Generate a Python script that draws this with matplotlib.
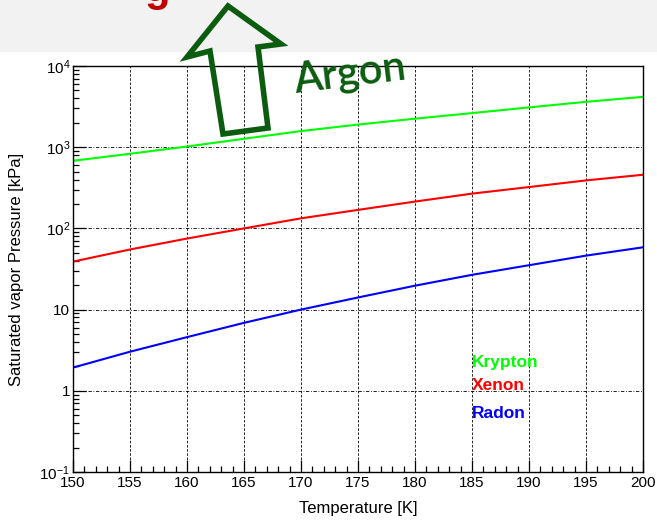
import math
import matplotlib
matplotlib.use('Agg')
import matplotlib.pyplot as plt
from matplotlib.ticker import FixedLocator, FuncFormatter, LogLocator, NullFormatter
from matplotlib.patches import Polygon, Rectangle

plt.rcParams['font.family'] = ['Liberation Sans', 'DejaVu Sans']
plt.rcParams['mathtext.fontset'] = 'custom'
plt.rcParams['mathtext.rm'] = 'Liberation Sans'
plt.rcParams['mathtext.it'] = 'Liberation Sans:italic'

# data
temps = [150, 155, 160, 165, 170, 175, 180, 185, 190, 195, 200]
krypton = [680, 830, 1020, 1270, 1580, 1900, 2245, 2630, 3090, 3620, 4170]
xenon = [39, 55, 75, 100, 133, 169, 214, 268, 323, 390, 458]
radon = [1.93, 3.03, 4.58, 6.87, 10.0, 14.1, 19.7, 26.8, 35.2, 46.2, 58.5]
labels = ['Krypton', 'Xenon', 'Radon']
colors = ['#00ff00', '#ff0000', '#0000ff']
label_y = [2.2, 1.17, 0.53]

fig = plt.figure(figsize=(6.57, 5.21), dpi=100)
ax = fig.add_axes([73/657, 1-472/521, 570/657, 406/521])

for vals, c in zip([krypton, xenon, radon], colors):
    ax.plot(temps, vals, color=c, lw=1.5)

ax.set_yscale('log')
ax.set_xlim(150, 200)
ax.set_ylim(0.1, 1e4)

ax.xaxis.set_major_locator(FixedLocator(range(150, 201, 5)))
ax.xaxis.set_minor_locator(FixedLocator(range(150, 201, 1)))
ax.yaxis.set_major_locator(LogLocator(base=10, numticks=10))
ax.yaxis.set_minor_locator(LogLocator(base=10, subs=range(2, 10), numticks=10))
ax.yaxis.set_minor_formatter(NullFormatter())

def ylab(v, pos):
    if abs(v - 1) < 1e-9:
        return '1'
    if abs(v - 10) < 1e-9:
        return '10'
    return '$10^{%d}$' % int(round(math.log10(v)))
ax.yaxis.set_major_formatter(FuncFormatter(ylab))

ax.tick_params(which='both', direction='in', top=False, right=False, labelsize=11)
ax.tick_params(which='major', length=9, width=0.9)
ax.tick_params(which='minor', length=4.5, width=0.9)
ax.tick_params(axis='x', pad=3)
ax.tick_params(axis='y', pad=2)

ax.xaxis.grid(True, which='major', color='black', lw=0.6, linestyle=(0, (3, 2)))
ax.yaxis.grid(True, which='major', color='black', lw=0.6, linestyle=(0, (4, 2, 1, 2)))
for s in ax.spines.values():
    s.set_linewidth(1.0)

ax.set_xlabel('Temperature [K]', fontsize=12, labelpad=8)
ax.set_ylabel('Saturated vapor Pressure [kPa]', fontsize=12, labelpad=11)

for lab, c, ly in zip(labels, colors, label_y):
    ax.text(185, ly, lab, color=c, fontsize=12.5, fontweight='bold', va='center', ha='left')

# overlay in pixel coordinates for the slide decorations
ov = fig.add_axes([0, 0, 1, 1], zorder=5)
ov.set_xlim(0, 657)
ov.set_ylim(521, 0)
ov.axis('off')
ov.patch.set_alpha(0)
ov.add_patch(Rectangle((0, 0), 657, 51, color='#f2f2f2', zorder=0))
ov.text(157, -10, 'g', color='#c00000', fontsize=30, fontweight='bold',
        ha='center', va='center')
arrow = [(228, 6), (281, 44), (258, 47), (268, 128), (223, 134), (210, 51), (187, 57)]
ov.add_patch(Polygon(arrow, closed=True, fill=False, edgecolor='#0c5c10', lw=4,
                     joinstyle='miter', zorder=3))
ov.text(350, 74, 'Argon', color='#0c5c10', fontsize=30, family='Lato',
        fontweight='semibold', rotation=7, ha='center', va='center',
        rotation_mode='anchor')

fig.savefig('out.png', dpi=100)
